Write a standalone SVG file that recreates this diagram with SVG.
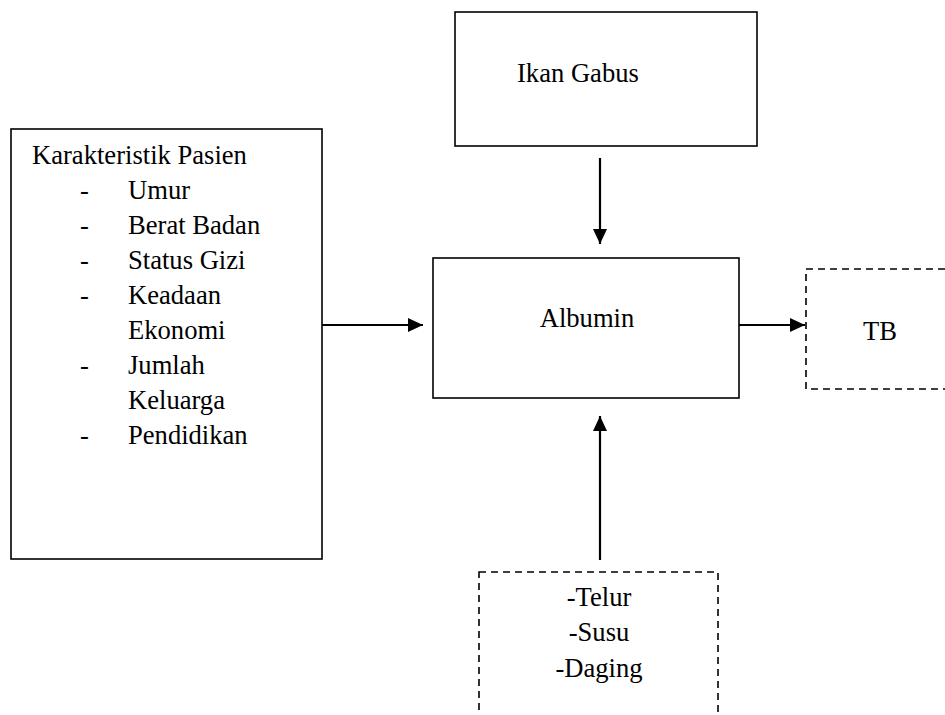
<svg xmlns="http://www.w3.org/2000/svg" width="945" height="715" viewBox="0 0 945 715">
<defs>
<style>
.box{fill:#fff;stroke:#000;stroke-width:1.6}
.dash{fill:#fff;stroke:#000;stroke-width:1.6;stroke-dasharray:7 5}
.t{font-family:"Liberation Serif","Times New Roman",serif;font-size:26.6px;fill:#000}
.c{stroke:#000;stroke-width:2.2;fill:none}
</style>
<marker id="ah" viewBox="0 0 15 14" refX="15" refY="7" markerWidth="15" markerHeight="14" orient="auto" markerUnits="userSpaceOnUse">
<path d="M0,0 L15,7 L0,14 Z" fill="#000"/>
</marker>
</defs>
<rect width="945" height="715" fill="#fff"/>
<g id="karakteristik">
<rect class="box" x="11" y="129" width="311" height="430"/>
<text class="t" x="32" y="164">Karakteristik Pasien</text>
<text class="t" x="80" y="199">-</text><text class="t" x="128" y="199">Umur</text>
<text class="t" x="80" y="234">-</text><text class="t" x="128" y="234">Berat Badan</text>
<text class="t" x="80" y="269">-</text><text class="t" x="128" y="269">Status Gizi</text>
<text class="t" x="80" y="304">-</text><text class="t" x="128" y="304">Keadaan</text>
<text class="t" x="128" y="339">Ekonomi</text>
<text class="t" x="80" y="374">-</text><text class="t" x="128" y="374">Jumlah</text>
<text class="t" x="128" y="409">Keluarga</text>
<text class="t" x="80" y="444">-</text><text class="t" x="128" y="444">Pendidikan</text>
</g>
<g id="ikan-gabus">
<rect class="box" x="455" y="12" width="302" height="134"/>
<text class="t" x="517" y="82">Ikan Gabus</text>
</g>
<g id="albumin">
<rect class="box" x="433" y="258" width="306" height="140"/>
<text class="t" x="587" y="327" text-anchor="middle">Albumin</text>
</g>
<g id="tb">
<rect class="dash" x="806" y="269" width="150" height="120"/>
<text class="t" x="863" y="340">TB</text>
</g>
<g id="makanan">
<rect class="dash" x="479" y="572" width="239" height="160"/>
<text class="t" x="599" y="606" text-anchor="middle">-Telur</text>
<text class="t" x="599" y="641" text-anchor="middle">-Susu</text>
<text class="t" x="599" y="677" text-anchor="middle">-Daging</text>
</g>
<g id="connectors">
<line class="c" x1="600" y1="158" x2="600" y2="244" marker-end="url(#ah)"/>
<line class="c" x1="322" y1="325" x2="423" y2="325" marker-end="url(#ah)"/>
<line class="c" x1="739" y1="325" x2="805" y2="325" marker-end="url(#ah)"/>
<line class="c" x1="600" y1="560" x2="600" y2="416" marker-end="url(#ah)"/>
</g>
</svg>
